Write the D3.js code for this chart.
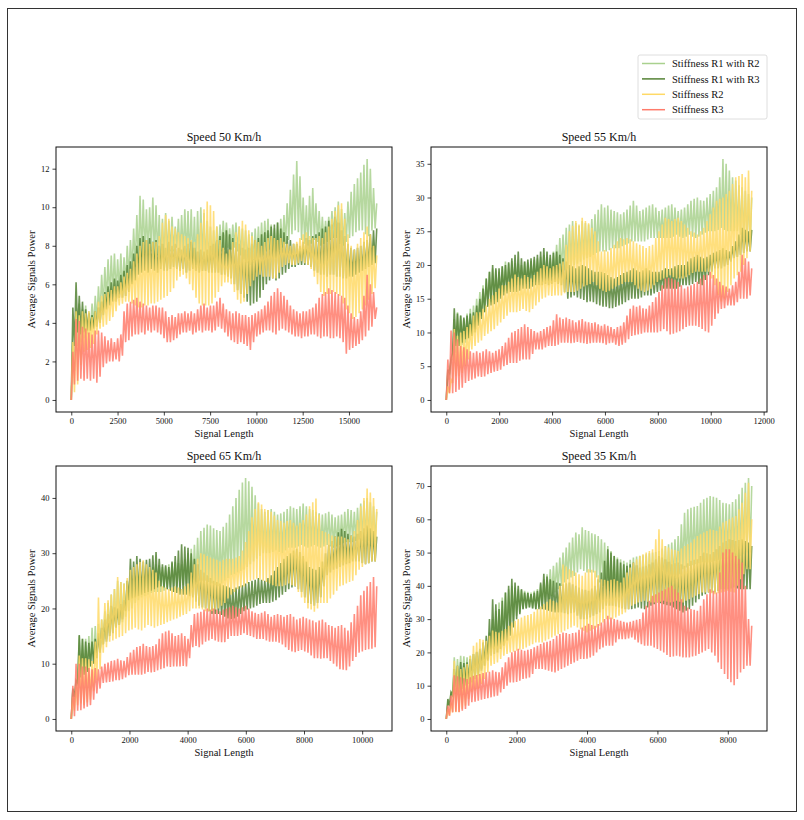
<!DOCTYPE html>
<html>
<head>
<meta charset="utf-8">
<script src="https://cdn.jsdelivr.net/npm/d3@7"></script>
<style>
  body { margin: 0; background: #fff; }
  svg text { font-family: "Liberation Serif", "Times New Roman", serif; fill: #111; }
</style>
</head>
<body>
<div class="chart"></div>
<script>
// legend / series
var seriesNames = ["Stiffness R1 with R2", "Stiffness R1 with R3", "Stiffness R2", "Stiffness R3"];
var seriesColors = ["#a9d18e", "#548235", "#ffd966", "#ff7b6b"];

var panelTitles = ["Speed 50 Km/h", "Speed 55 Km/h", "Speed 65 Km/h", "Speed 35 Km/h"];
var signalLengths = [16500, 11550, 10500, 8680];

var xTicks50 = [0, 2500, 5000, 7500, 10000, 12500, 15000];
var xTicks55 = [0, 2000, 4000, 6000, 8000, 10000, 12000];
var xTicks65 = [0, 2000, 4000, 6000, 8000, 10000];
var xTicks35 = [0, 2000, 4000, 6000, 8000];
var yTicks50 = [0, 2, 4, 6, 8, 10, 12];
var yTicks55 = [0, 5, 10, 15, 20, 25, 30, 35];
var yTicks65 = [0, 10, 20, 30, 40];
var yTicks35 = [0, 10, 20, 30, 40, 50, 60, 70];

var speed50_r1r2 = [0,3.0, 1.5,4.6, 2.8,5.0, 3.0,4.7, 3.2,4.9, 3.4,4.6, 3.6,5.0, 3.8,5.4, 4.0,5.9, 4.4,6.5, 4.8,6.9, 5.1,7.3, 5.3,7.5, 5.5,7.6, 5.5,7.3, 5.7,7.6, 5.6,7.4, 6.0,8.0, 6.3,8.3, 6.7,8.9, 6.9,9.6, 7.1,10.6, 7.4,10.4, 7.6,9.9, 7.5,10.0, 7.7,10.5, 7.3,10.1, 7.5,9.6, 7.1,9.4, 7.3,9.7, 7.5,9.3, 7.7,9.5, 7.7,9.0, 7.9,9.4, 7.5,9.6, 7.5,9.9, 7.4,9.8, 7.3,9.9, 7.1,9.5, 7.0,9.8, 7.1,10.0, 7.3,9.7, 7.0,9.3, 7.1,9.0, 7.2,8.8, 7.3,9.0, 7.5,9.1, 7.7,9.3, 7.8,9.2, 7.9,8.9, 7.8,9.1, 7.9,9.2, 7.7,9.0, 7.5,8.9, 7.3,8.8, 7.1,8.6, 7.0,8.7, 7.1,8.9, 7.2,9.0, 7.4,9.2, 7.5,9.3, 7.7,9.4, 7.8,9.1, 7.7,8.9, 7.7,9.2, 7.8,9.4, 7.9,9.6, 8.1,10.2, 8.3,10.9, 8.6,11.7, 8.8,12.4, 8.7,11.6, 8.3,10.5, 8.1,10.1, 8.0,10.6, 8.1,11.0, 8.3,10.2, 8.2,9.8, 8.0,9.5, 8.1,9.3, 8.2,9.5, 8.3,9.8, 8.4,10.0, 8.4,10.3, 8.1,9.9, 8.0,9.7, 8.2,10.3, 8.4,10.8, 8.5,11.2, 8.7,11.5, 8.8,11.8, 8.8,12.2, 8.6,12.5, 8.5,12.0, 8.8,11.0, 8.9,10.2];
var speed50_r1r3 = [0,4.8, 2.8,6.1, 3.5,5.4, 3.4,5.1, 3.5,4.7, 3.6,4.5, 3.6,4.4, 3.7,4.6, 3.8,4.8, 4.0,5.1, 4.4,5.6, 4.7,5.9, 4.9,6.1, 5.1,6.3, 5.1,6.2, 5.3,6.5, 5.3,6.7, 5.4,7.0, 5.6,7.2, 6.0,7.6, 6.2,8.0, 6.5,8.4, 6.6,8.5, 6.7,8.3, 6.6,8.4, 6.8,8.2, 6.7,8.3, 6.6,8.0, 6.8,8.1, 6.7,7.9, 6.7,8.2, 6.8,8.0, 6.9,8.1, 6.8,7.9, 6.7,7.8, 6.8,8.0, 6.6,8.1, 6.7,8.2, 6.8,7.9, 6.7,7.7, 6.6,7.8, 6.7,7.7, 6.7,7.8, 6.6,8.0, 6.6,8.1, 6.6,8.3, 6.6,8.5, 6.5,8.7, 6.5,8.8, 6.4,8.6, 6.3,8.4, 6.0,8.2, 5.7,8.1, 5.5,7.9, 5.3,7.8, 5.1,7.9, 4.9,8.1, 5.0,8.3, 5.1,8.4, 5.3,8.6, 5.7,8.7, 6.0,8.8, 6.2,9.0, 6.3,9.1, 6.2,9.2, 6.3,8.9, 6.5,8.7, 6.6,8.5, 6.8,8.3, 6.9,8.1, 6.9,8.1, 7.0,8.0, 7.0,8.2, 7.0,8.4, 7.0,8.3, 6.9,8.5, 6.7,8.6, 6.6,8.7, 6.5,8.9, 6.5,9.0, 6.4,9.3, 6.5,9.1, 6.5,9.5, 6.4,9.2, 6.4,8.8, 6.3,8.5, 6.3,8.1, 6.4,7.9, 6.4,7.8, 6.5,7.9, 6.6,8.0, 6.7,8.2, 6.8,8.3, 6.9,8.6, 7.0,8.8, 7.1,8.9];
var speed50_r2 = [0,3.0, 0.4,4.6, 0.8,4.4, 1.8,4.6, 2.5,4.5, 2.6,4.6, 2.7,4.3, 2.9,4.6, 3.4,5.1, 3.7,5.4, 3.8,5.5, 3.9,5.6, 4.1,5.7, 4.3,5.9, 4.6,5.9, 4.9,6.1, 5.0,6.4, 5.1,6.6, 5.1,6.8, 5.0,7.2, 4.9,7.6, 4.8,8.0, 4.8,8.2, 4.9,8.3, 4.9,8.1, 5.0,8.2, 5.0,8.2, 5.1,8.5, 5.2,9.2, 5.3,9.6, 5.4,9.4, 5.6,9.0, 5.8,8.9, 6.2,8.7, 6.4,8.6, 6.5,8.5, 6.3,8.4, 6.0,8.3, 5.7,8.2, 5.3,8.6, 5.0,9.2, 4.9,9.9, 4.9,10.3, 4.9,10.1, 5.0,9.8, 5.3,9.0, 5.6,8.3, 5.9,7.9, 6.1,7.6, 6.1,7.8, 6.0,8.2, 5.6,8.7, 5.2,9.0, 5.0,9.3, 5.1,9.1, 5.5,8.8, 5.9,8.5, 6.2,8.3, 6.4,8.2, 6.5,8.0, 6.4,8.2, 6.4,8.4, 6.4,8.5, 6.3,8.4, 6.3,8.3, 6.6,8.4, 6.9,8.2, 7.0,8.1, 7.1,8.0, 7.0,8.1, 7.0,8.2, 7.1,8.4, 7.2,8.6, 7.1,8.7, 7.0,8.5, 6.8,8.4, 6.4,8.4, 6.0,8.5, 5.6,8.4, 5.4,8.7, 5.5,9.0, 5.5,9.4, 5.6,9.8, 5.5,10.1, 5.4,10.2, 5.0,9.4, 4.7,8.6, 4.5,8.0, 4.2,7.8, 4.3,8.1, 4.5,8.4, 4.7,8.7, 4.9,9.0, 5.2,8.6, 5.5,8.0, 5.8,7.5];
var speed50_r3 = [0,2.5, 0.8,4.2, 1.0,4.1, 1.1,3.8, 1.0,3.7, 1.1,3.5, 1.0,3.4, 1.1,3.6, 0.9,3.6, 1.2,3.5, 1.7,3.3, 1.9,3.1, 2.0,3.2, 2.0,3.0, 2.1,3.2, 2.0,3.4, 2.3,4.6, 3.0,5.0, 3.1,5.1, 3.3,5.2, 3.4,5.3, 3.4,5.1, 3.5,5.0, 3.4,4.9, 3.6,4.8, 3.5,4.9, 3.6,4.9, 3.5,4.8, 3.4,4.8, 3.2,4.6, 3.0,4.3, 3.0,4.4, 3.1,4.3, 3.2,4.5, 3.4,4.5, 3.5,4.6, 3.5,4.5, 3.6,4.6, 3.4,4.5, 3.5,4.7, 3.6,4.9, 3.5,5.0, 3.6,4.8, 3.6,4.9, 3.5,4.9, 3.6,5.1, 3.8,5.3, 3.7,5.0, 3.5,4.7, 3.3,4.6, 3.1,4.5, 3.0,4.6, 2.9,4.5, 3.0,4.4, 2.9,4.4, 2.8,4.3, 2.6,4.4, 3.0,4.5, 3.3,4.6, 3.4,4.7, 3.5,4.9, 3.6,5.1, 3.6,5.4, 3.5,5.6, 3.4,5.8, 3.6,5.6, 3.7,5.4, 3.6,5.2, 3.5,4.9, 3.4,4.7, 3.3,4.6, 3.3,4.5, 3.2,4.6, 3.3,4.6, 3.3,4.7, 3.4,4.8, 3.4,5.0, 3.3,5.3, 3.2,5.5, 3.3,5.6, 3.3,5.8, 3.2,5.7, 3.2,5.6, 3.3,5.5, 3.2,5.4, 3.0,5.3, 2.4,4.9, 2.6,4.5, 2.7,4.3, 2.8,4.2, 2.9,4.6, 3.1,5.4, 3.3,6.5, 3.6,6.0, 3.8,5.6, 4.2,4.8];

var speed55_r1r2 = [0,4.0, 3.0,6.0, 6.0,12.0, 7.0,13.0, 8.0,12.5, 8.2,12.0, 8.5,12.8, 9.0,13.5, 9.5,14.0, 10.5,15.0, 11.5,16.0, 12.5,17.0, 13.0,18.0, 14.0,19.0, 14.5,19.5, 14.8,19.2, 15.0,19.0, 15.5,19.8, 16.0,20.5, 16.2,20.2, 16.5,20.6, 16.8,20.3, 17.0,20.2, 17.0,20.0, 17.0,20.5, 17.2,20.4, 17.5,20.6, 17.5,20.8, 17.5,21.0, 17.8,21.2, 18.0,21.5, 18.0,21.2, 18.0,21.0, 18.2,22.0, 18.5,23.0, 18.8,24.0, 19.0,24.5, 19.2,25.5, 19.5,26.0, 19.8,26.5, 20.0,26.2, 20.2,25.8, 20.5,26.5, 20.8,26.2, 21.0,26.0, 21.2,26.8, 21.5,27.5, 21.8,28.2, 22.0,29.0, 22.0,28.5, 22.0,28.8, 22.2,28.2, 22.5,28.0, 22.5,27.8, 22.5,27.5, 22.8,27.8, 23.0,28.2, 23.2,28.8, 23.5,29.5, 23.5,28.8, 23.5,28.0, 23.5,28.2, 23.5,28.5, 23.8,28.8, 24.0,29.0, 24.0,28.5, 24.0,28.0, 24.0,28.2, 24.0,28.5, 24.0,28.8, 24.0,29.0, 24.2,28.5, 24.5,28.0, 24.2,28.2, 24.0,28.5, 24.2,29.0, 24.5,29.5, 24.2,29.8, 24.0,30.0, 24.2,29.6, 24.5,29.5, 24.8,30.0, 25.0,30.5, 25.0,31.0, 25.0,31.5, 25.2,33.0, 25.5,35.7, 25.2,35.0, 25.0,34.0, 25.0,33.0, 25.0,32.5, 25.0,31.8, 24.5,31.5, 24.0,31.0, 23.5,30.5, 23.0,30.0];
var speed55_r1r3 = [0,4.5, 4.0,6.2, 7.0,13.6, 8.0,12.8, 8.0,12.5, 8.5,12.2, 9.0,12.5, 9.2,12.8, 9.5,13.0, 10.0,14.0, 11.0,15.0, 12.0,16.5, 13.0,18.0, 13.8,19.0, 14.0,20.0, 14.2,19.5, 14.5,19.5, 15.0,19.8, 15.5,20.0, 15.8,20.4, 16.0,21.0, 16.0,21.5, 16.0,22.0, 16.2,21.0, 16.5,20.5, 16.5,20.8, 16.5,21.0, 16.8,21.2, 17.0,21.5, 17.0,22.0, 17.0,22.5, 17.2,22.0, 17.0,21.5, 17.2,21.8, 17.5,22.0, 17.2,21.5, 17.0,21.0, 16.0,20.5, 15.0,20.0, 15.2,19.8, 15.5,19.5, 15.2,19.8, 15.0,20.0, 14.8,19.8, 14.5,19.5, 14.6,19.2, 14.5,19.0, 14.2,19.0, 14.0,19.0, 13.8,18.8, 13.8,18.5, 13.6,18.2, 13.6,18.0, 13.8,18.2, 14.0,18.5, 14.2,18.8, 14.5,19.0, 14.8,19.2, 15.0,19.5, 15.0,19.2, 15.0,19.0, 15.2,19.2, 15.5,19.5, 15.5,19.2, 15.5,19.0, 15.8,19.0, 16.0,19.0, 16.2,19.2, 16.5,19.5, 16.5,19.4, 16.5,19.5, 16.5,19.8, 16.5,20.0, 16.8,20.0, 17.0,20.0, 17.0,20.5, 17.0,21.0, 17.2,21.2, 17.5,21.5, 17.2,21.2, 17.0,21.0, 17.8,21.2, 18.5,21.5, 19.0,21.8, 19.5,22.0, 19.5,22.2, 19.5,22.5, 19.8,22.2, 20.0,22.0, 20.5,22.8, 21.0,23.5, 21.2,24.5, 21.5,25.5, 21.8,25.2, 22.0,25.0, 22.0,25.2];
var speed55_r2 = [0,2.0, 1.0,3.0, 2.5,10.5, 3.5,9.5, 3.5,10.0, 4.0,10.2, 5.0,10.8, 6.0,11.2, 7.5,12.5, 8.0,13.0, 8.5,13.0, 8.8,13.5, 9.5,14.0, 9.8,15.0, 10.2,15.5, 10.5,16.0, 11.0,16.5, 11.5,17.0, 12.0,17.0, 12.5,17.5, 13.0,18.0, 13.0,18.6, 13.0,18.2, 13.2,18.0, 13.5,18.5, 13.2,18.2, 13.0,18.0, 13.5,18.5, 14.0,19.0, 14.5,19.5, 15.0,20.0, 15.2,19.8, 15.5,19.5, 15.4,19.8, 15.5,20.0, 15.5,20.2, 15.5,20.5, 15.8,23.0, 16.0,25.0, 16.0,25.8, 16.0,26.5, 16.2,26.0, 16.5,27.0, 16.8,26.5, 17.0,26.2, 17.2,25.5, 17.5,25.0, 17.0,23.5, 16.5,22.0, 16.2,22.2, 16.0,22.0, 16.2,22.5, 16.5,23.0, 16.8,23.5, 17.0,24.0, 17.2,23.8, 17.5,24.0, 17.5,23.8, 17.5,23.5, 17.0,23.2, 16.5,23.0, 16.2,22.8, 16.0,22.5, 16.2,22.8, 16.5,23.0, 17.0,24.0, 17.5,25.0, 17.8,26.0, 18.0,27.0, 18.2,26.8, 18.5,26.5, 18.2,26.8, 18.0,27.0, 18.0,26.5, 18.0,26.0, 18.2,25.5, 18.5,25.0, 18.8,24.8, 19.0,24.5, 19.0,25.0, 19.0,25.5, 19.0,26.5, 19.0,27.5, 18.0,28.5, 17.0,29.5, 15.5,29.8, 14.6,30.0, 15.0,30.5, 16.0,31.0, 17.0,32.0, 18.0,33.0, 18.5,33.2, 19.0,33.5, 20.0,33.0, 21.0,34.0, 22.0,31.0];
var speed55_r3 = [0,6.0, 1.0,10.3, 1.0,10.0, 1.2,9.0, 1.5,8.0, 1.8,7.8, 2.5,7.5, 2.8,7.2, 3.0,7.0, 3.2,7.2, 3.5,7.0, 3.4,7.2, 3.5,7.5, 3.8,7.2, 4.0,7.0, 4.2,7.3, 4.3,7.5, 4.5,8.0, 5.0,8.5, 5.2,9.2, 5.5,10.0, 5.5,10.2, 5.5,10.5, 5.8,10.8, 6.0,11.2, 6.0,10.8, 6.0,10.5, 6.8,10.2, 7.5,10.0, 7.5,10.2, 7.5,10.5, 7.8,10.8, 8.0,11.0, 8.0,11.8, 8.0,12.7, 8.2,12.2, 8.5,12.0, 8.5,12.2, 8.5,12.0, 8.4,11.8, 8.5,11.5, 8.6,11.8, 8.5,12.0, 8.4,11.6, 8.3,11.5, 8.4,11.4, 8.5,11.5, 8.5,11.2, 8.5,11.0, 8.4,11.2, 8.2,11.0, 8.4,10.8, 8.5,10.5, 8.2,10.8, 8.0,11.0, 8.2,11.5, 8.5,12.5, 9.0,13.5, 9.5,14.0, 9.6,13.8, 9.7,14.0, 9.8,13.6, 10.0,13.5, 10.0,14.0, 10.0,14.5, 10.0,15.2, 10.0,16.0, 10.2,17.0, 10.5,18.0, 10.2,18.1, 9.7,18.0, 9.8,17.8, 10.0,17.5, 10.2,17.0, 10.5,16.5, 10.8,16.8, 11.0,17.0, 11.0,17.2, 11.0,17.5, 10.8,18.0, 10.5,18.5, 10.2,18.6, 10.0,19.0, 11.0,18.5, 12.0,18.0, 12.8,17.5, 13.5,17.0, 13.6,16.8, 14.0,16.5, 14.0,17.0, 14.0,17.5, 14.5,19.0, 15.0,21.5, 15.0,21.0, 15.0,20.5, 15.5,19.5];

var speed65_r1r2 = [0,5.0, 3.0,7.0, 6.0,15.0, 7.5,14.5, 8.0,14.5, 8.5,15.0, 9.5,16.5, 10.0,16.8, 11.0,17.2, 12.0,18.0, 13.5,19.5, 14.5,21.0, 15.5,22.5, 16.0,23.5, 16.5,25.0, 17.0,24.8, 17.5,24.5, 18.5,25.0, 19.5,25.5, 20.0,26.0, 21.0,27.0, 21.5,27.4, 22.0,27.8, 22.2,27.2, 22.5,27.0, 22.8,27.5, 23.0,28.0, 23.0,27.8, 23.0,27.5, 23.2,27.6, 23.5,28.0, 23.8,28.2, 24.0,28.4, 24.0,28.2, 24.0,28.0, 24.2,29.0, 24.5,30.0, 24.5,30.8, 24.5,31.5, 24.8,32.8, 25.0,34.0, 25.0,34.6, 25.0,35.2, 24.8,35.0, 24.5,34.5, 24.2,34.2, 24.0,34.0, 24.5,34.8, 25.0,35.5, 25.5,37.0, 26.0,38.5, 26.2,40.0, 26.5,41.5, 26.8,42.8, 27.0,43.6, 27.5,43.0, 28.0,42.0, 28.5,40.5, 29.0,39.0, 29.5,38.0, 30.0,37.5, 30.0,37.8, 30.0,38.0, 30.2,37.5, 30.5,37.0, 30.2,37.2, 30.0,37.5, 30.5,38.0, 31.0,38.5, 31.0,38.2, 31.0,38.0, 31.2,38.5, 31.5,39.0, 31.2,38.5, 31.0,38.0, 31.2,37.8, 31.5,37.5, 31.2,37.2, 31.0,37.0, 31.2,37.2, 31.5,37.5, 31.2,37.0, 31.0,36.5, 31.2,36.8, 31.5,37.0, 31.8,37.5, 32.0,38.0, 32.0,37.8, 32.0,37.5, 32.2,38.2, 32.5,39.0, 32.2,39.5, 32.0,40.0, 32.2,39.2, 32.0,38.5, 32.0,37.5];
var speed65_r1r3 = [0,5.5, 4.0,7.0, 6.5,15.2, 7.5,14.5, 8.0,14.0, 8.5,13.8, 9.5,14.0, 10.0,14.5, 11.0,15.5, 12.0,16.5, 13.5,18.0, 14.0,19.0, 15.0,20.5, 15.5,20.2, 16.5,20.0, 17.0,20.8, 18.0,21.5, 19.5,25.0, 21.5,29.0, 21.8,28.5, 22.0,29.5, 22.2,29.0, 22.5,28.5, 22.8,28.8, 23.0,29.0, 23.2,29.6, 23.5,30.2, 23.8,29.0, 24.0,28.0, 23.8,27.8, 23.5,27.5, 23.2,28.5, 23.0,29.5, 22.8,30.5, 22.5,31.6, 22.5,31.2, 22.5,31.0, 22.2,30.0, 22.0,29.0, 21.2,28.0, 20.5,27.0, 20.2,26.5, 20.0,26.0, 19.5,25.5, 19.0,25.0, 19.0,24.8, 19.0,24.5, 18.8,24.2, 18.5,24.0, 18.2,23.8, 18.1,23.5, 18.2,23.8, 18.5,24.0, 19.0,24.2, 19.5,24.5, 19.8,24.8, 20.0,25.0, 20.2,25.2, 20.5,25.5, 20.8,25.2, 21.0,25.0, 21.0,25.5, 21.0,26.0, 21.2,26.8, 21.5,27.5, 22.0,28.2, 22.5,29.0, 23.0,29.5, 23.5,30.0, 23.8,30.5, 24.0,30.8, 23.5,30.2, 23.0,29.5, 22.0,28.5, 21.0,27.5, 20.8,27.2, 20.5,27.0, 21.0,27.5, 22.0,28.5, 24.0,30.0, 26.0,31.5, 26.5,32.2, 27.0,33.0, 27.2,33.8, 27.5,34.4, 27.8,34.0, 28.0,33.5, 28.2,33.2, 28.5,33.0, 28.5,33.5, 28.5,34.0, 28.2,34.5, 28.0,35.0, 28.2,34.5, 28.5,34.0, 28.5,33.0];
var speed65_r2 = [0,4.0, 1.5,6.0, 2.5,11.5, 2.8,11.0, 2.5,11.0, 3.0,10.8, 3.5,10.5, 5.0,14.0, 7.0,22.0, 9.0,18.0, 12.0,21.0, 13.0,21.5, 14.0,22.5, 14.2,23.5, 14.5,25.7, 14.8,24.8, 15.0,24.5, 15.5,25.5, 16.0,27.0, 16.2,27.5, 16.5,28.0, 16.2,28.4, 16.0,28.7, 16.5,28.0, 17.0,27.5, 16.8,27.0, 16.5,26.5, 16.8,25.0, 17.0,24.0, 17.2,23.8, 17.5,23.5, 17.8,23.8, 18.0,24.0, 18.2,23.8, 18.5,23.5, 18.8,24.0, 19.0,24.5, 19.5,26.5, 20.0,28.0, 20.0,29.0, 20.0,30.0, 19.8,29.8, 19.5,29.5, 19.5,29.2, 19.5,29.0, 19.8,28.8, 20.0,28.5, 20.5,28.8, 21.0,29.0, 21.8,29.0, 22.5,29.0, 23.0,29.2, 23.5,29.5, 23.8,30.5, 24.0,32.0, 24.5,34.0, 25.0,36.5, 25.2,38.0, 25.4,39.2, 25.2,38.8, 25.0,38.0, 24.8,37.8, 24.5,37.5, 24.2,36.8, 24.0,36.0, 24.0,35.8, 24.0,35.5, 24.2,35.8, 24.5,36.0, 24.2,35.5, 24.0,35.0, 23.0,35.5, 22.0,36.0, 21.0,37.0, 20.0,38.5, 19.8,39.2, 19.4,39.9, 20.0,37.0, 21.0,34.0, 21.0,33.8, 21.0,33.5, 21.8,33.2, 22.5,33.0, 23.2,33.0, 24.0,33.0, 24.2,32.8, 24.5,32.5, 24.8,33.2, 25.0,34.0, 26.0,36.0, 27.0,38.5, 27.5,40.0, 28.0,41.7, 28.2,41.0, 28.5,40.0, 28.5,38.0];
var speed65_r3 = [0,6.0, 0.5,10.0, 1.5,10.0, 1.6,9.5, 1.9,9.5, 2.2,9.2, 2.5,9.0, 3.5,9.2, 4.6,9.0, 5.5,9.5, 6.5,10.0, 6.6,10.2, 6.7,10.5, 6.8,10.6, 7.0,10.9, 7.0,10.6, 7.2,10.5, 7.5,11.2, 7.9,12.0, 8.0,12.5, 8.0,13.0, 8.0,13.2, 8.0,13.6, 8.2,13.2, 8.5,13.0, 8.4,13.2, 8.5,13.5, 8.8,14.5, 9.0,15.5, 9.2,15.8, 9.5,16.0, 9.4,15.5, 9.5,15.0, 9.5,15.2, 9.5,15.5, 9.6,15.0, 9.5,14.5, 11.0,17.0, 13.0,19.0, 13.2,19.2, 13.0,19.4, 13.5,19.8, 14.0,20.0, 14.2,19.8, 14.5,20.0, 14.2,19.8, 14.0,19.5, 13.9,19.8, 13.9,20.0, 14.5,20.2, 15.0,20.5, 15.0,20.2, 15.0,20.0, 15.2,20.2, 15.5,20.5, 15.2,20.0, 15.0,19.5, 14.8,19.2, 14.5,19.0, 14.5,19.2, 14.5,19.5, 14.2,19.0, 14.0,18.5, 14.0,18.8, 14.0,19.0, 13.8,18.8, 13.5,18.5, 13.0,18.8, 12.5,19.0, 12.2,18.5, 12.1,18.0, 12.3,18.2, 12.5,18.5, 12.2,18.2, 12.0,18.0, 11.5,17.8, 11.0,17.5, 11.0,17.8, 10.9,18.0, 11.0,17.5, 11.0,17.0, 10.5,16.8, 10.0,16.5, 9.5,16.8, 9.0,17.0, 8.9,16.5, 8.8,16.0, 9.5,17.5, 10.5,19.0, 11.2,20.5, 12.0,22.4, 12.2,23.2, 12.5,24.0, 12.6,24.8, 12.7,25.7, 13.0,24.0];

var speed35_r1r2 = [0,5.0, 4.0,8.0, 8.0,18.5, 9.0,18.0, 10.0,19.0, 10.5,18.8, 11.0,18.5, 11.5,19.0, 12.0,19.5, 13.0,20.0, 14.0,20.5, 15.0,21.0, 16.0,22.0, 18.0,26.0, 20.0,30.0, 21.0,32.5, 22.0,35.0, 23.0,36.5, 24.0,38.0, 26.0,39.0, 28.0,40.0, 29.5,39.5, 31.0,39.0, 32.0,38.8, 33.0,38.5, 33.2,38.2, 33.5,38.0, 33.2,38.5, 33.0,39.0, 33.5,40.5, 34.0,42.0, 35.0,43.5, 36.0,45.0, 37.0,46.0, 38.0,47.0, 39.0,48.5, 40.0,50.0, 41.0,51.5, 42.0,53.0, 42.5,54.5, 43.0,56.0, 44.0,55.5, 45.0,57.6, 44.5,56.8, 44.0,56.5, 44.0,55.8, 44.0,55.5, 42.5,55.0, 41.0,54.0, 40.0,53.0, 39.0,52.0, 38.5,50.5, 38.0,49.0, 38.0,48.5, 38.0,48.0, 37.8,47.5, 37.5,47.0, 37.8,47.8, 38.0,48.5, 38.2,48.8, 38.5,49.0, 38.2,49.2, 38.0,49.5, 38.2,49.8, 38.5,50.0, 38.8,50.2, 39.0,50.5, 39.5,51.2, 40.0,52.0, 40.2,52.5, 40.5,53.0, 41.2,54.0, 42.0,55.0, 43.5,58.5, 45.0,62.0, 45.5,63.0, 46.0,63.5, 46.2,63.8, 46.5,64.0, 46.8,65.0, 47.0,66.0, 47.0,66.5, 47.0,67.0, 47.2,66.8, 47.5,66.5, 47.8,65.8, 48.0,65.0, 48.0,64.8, 48.0,64.5, 48.2,65.2, 48.5,66.0, 48.8,67.5, 49.0,69.5, 49.5,71.0, 50.0,72.4, 50.0,70.0];
var speed35_r1r3 = [0,6.0, 4.0,8.0, 7.0,15.0, 7.5,16.0, 8.0,17.1, 9.0,16.8, 10.0,17.0, 10.5,18.0, 11.0,19.5, 12.0,20.2, 13.0,21.1, 14.5,23.0, 16.0,25.0, 17.5,30.0, 19.0,36.0, 19.5,34.5, 20.0,33.0, 21.0,35.5, 22.0,38.0, 23.5,40.0, 25.0,42.1, 27.5,41.0, 30.0,40.0, 31.5,39.0, 33.0,38.0, 33.2,37.8, 33.5,37.5, 33.2,38.0, 33.0,38.5, 33.0,41.0, 33.0,43.6, 32.8,42.8, 32.5,42.0, 32.2,41.5, 32.0,41.0, 32.0,40.8, 32.0,40.5, 31.8,40.8, 31.5,41.0, 31.8,40.5, 32.0,40.0, 31.0,39.5, 30.0,39.0, 30.0,38.8, 30.0,38.5, 30.5,39.2, 31.0,40.0, 31.5,42.0, 32.0,44.0, 33.0,47.5, 34.0,51.0, 34.0,50.0, 34.0,49.0, 33.8,48.0, 33.5,47.0, 33.2,46.5, 33.0,46.0, 33.0,46.5, 33.0,47.0, 33.2,46.2, 33.5,45.5, 33.2,45.8, 33.0,46.0, 33.5,46.5, 34.0,47.0, 34.5,48.0, 35.0,49.0, 34.8,48.5, 34.5,48.0, 34.2,47.2, 34.0,46.5, 33.5,46.8, 33.0,47.0, 32.5,46.5, 32.0,46.0, 32.5,46.8, 33.0,47.5, 34.0,47.8, 35.0,48.0, 36.0,49.0, 37.0,50.0, 37.5,49.8, 38.0,49.5, 38.0,50.2, 38.0,51.0, 38.5,52.0, 39.0,53.0, 39.0,53.5, 39.0,54.0, 39.2,53.8, 39.5,53.5, 39.2,53.8, 39.0,54.0, 39.0,53.5, 39.0,53.0, 39.0,52.0];
var speed35_r2 = [0,3.0, 1.0,5.0, 2.0,17.5, 2.0,16.0, 2.1,15.0, 3.0,15.5, 4.0,16.5, 6.0,19.0, 8.0,22.0, 8.5,23.0, 9.0,24.0, 10.5,23.8, 12.0,23.5, 14.0,25.0, 16.0,26.6, 16.5,26.2, 17.0,26.0, 18.0,26.5, 19.0,27.0, 19.5,28.0, 20.0,29.0, 20.2,29.5, 20.5,30.0, 20.8,30.5, 21.0,31.0, 21.5,31.2, 22.0,31.5, 22.5,32.2, 23.0,33.0, 23.0,33.8, 23.0,34.5, 23.5,35.2, 24.0,36.0, 24.5,35.5, 25.0,35.0, 25.5,40.0, 26.0,46.4, 26.5,45.8, 27.0,45.0, 27.5,44.5, 28.0,44.0, 27.5,43.5, 27.0,43.0, 26.5,44.0, 26.0,45.0, 26.5,44.8, 27.0,44.5, 27.5,43.2, 28.0,42.0, 29.0,41.8, 30.0,41.5, 30.0,41.8, 30.0,42.0, 30.5,41.5, 31.0,41.0, 31.5,42.5, 32.0,44.0, 33.0,45.5, 34.0,47.0, 34.5,48.0, 35.0,49.0, 35.2,49.5, 35.5,50.0, 35.2,50.5, 35.0,51.0, 35.0,54.0, 35.0,57.0, 35.2,54.0, 35.5,52.0, 35.2,51.5, 35.0,51.0, 35.2,50.8, 35.5,50.5, 35.2,51.2, 35.0,52.0, 35.5,52.5, 36.0,53.0, 36.5,54.0, 37.0,55.0, 37.5,55.5, 38.0,56.0, 38.0,56.5, 38.0,57.0, 37.8,56.8, 37.5,56.5, 37.8,57.8, 38.0,59.0, 38.2,59.5, 38.5,60.0, 38.2,60.5, 38.0,61.0, 40.0,63.0, 42.0,65.0, 43.5,68.0, 45.0,71.0, 45.0,60.0];
var speed35_r3 = [0,4.0, 1.0,7.0, 2.0,13.1, 2.2,12.8, 2.0,12.5, 2.5,12.2, 3.0,12.0, 4.0,12.5, 5.0,13.0, 5.2,13.2, 5.5,13.5, 5.8,13.8, 6.0,14.0, 6.2,14.2, 6.5,14.6, 6.8,14.2, 7.0,14.0, 8.0,15.5, 9.0,17.0, 10.0,18.5, 11.0,20.0, 11.0,20.5, 11.1,21.1, 11.5,20.8, 12.0,20.5, 12.2,20.8, 12.5,21.0, 13.5,21.5, 15.0,22.0, 15.0,22.5, 15.0,23.0, 14.8,23.2, 14.5,23.5, 14.2,24.0, 14.0,25.0, 14.5,25.5, 15.0,26.0, 15.5,25.8, 16.0,25.5, 16.5,25.8, 17.0,26.0, 17.5,26.8, 18.0,27.5, 18.0,28.0, 18.1,28.6, 18.5,28.2, 19.0,28.0, 20.0,28.5, 21.0,29.0, 21.5,30.0, 22.0,31.0, 22.0,30.5, 22.0,30.0, 23.0,29.8, 24.0,29.5, 24.0,29.2, 24.0,29.0, 24.2,29.2, 24.5,29.5, 23.8,29.8, 23.0,30.0, 22.5,32.0, 22.0,34.0, 22.0,35.5, 22.0,37.0, 21.5,37.5, 21.0,38.0, 20.5,38.5, 20.0,39.0, 19.2,39.5, 18.6,40.0, 18.8,39.0, 19.0,38.0, 18.8,36.0, 18.5,34.0, 18.5,33.5, 18.5,33.0, 18.8,32.8, 19.0,32.5, 19.5,34.0, 20.0,36.0, 20.5,37.5, 21.0,39.0, 20.0,38.5, 19.0,38.0, 17.0,44.0, 15.0,50.0, 13.5,51.0, 12.0,51.0, 11.0,50.0, 10.1,49.0, 12.0,48.0, 14.0,47.0, 15.0,40.0, 16.0,30.0, 16.0,28.0];

function init() {
  var w = 804;
  var h = 820;
  var plotW = 336;
  var plotH = 265;
  var lefts = [56, 431, 56, 431];
  var tops = [147, 147, 466, 466];

  var panels = [
    { series: [speed50_r1r2, speed50_r1r3, speed50_r2, speed50_r3], xTicks: xTicks50, yTicks: yTicks50 },
    { series: [speed55_r1r2, speed55_r1r3, speed55_r2, speed55_r3], xTicks: xTicks55, yTicks: yTicks55 },
    { series: [speed65_r1r2, speed65_r1r3, speed65_r2, speed65_r3], xTicks: xTicks65, yTicks: yTicks65 },
    { series: [speed35_r1r2, speed35_r1r3, speed35_r2, speed35_r3], xTicks: xTicks35, yTicks: yTicks35 }
  ];

  var svg = d3.select(".chart")
    .append("svg")
    .attr("width", w)
    .attr("height", h);

  svg.append("rect")
    .attr("x", 7.5)
    .attr("y", 8.5)
    .attr("width", 789)
    .attr("height", 803)
    .attr("fill", "white")
    .attr("stroke", "#333")
    .attr("stroke-width", 1);

  panels.forEach(function(p, k) {
    var n = signalLengths[k];
    var all = d3.merge(p.series);
    var lo = d3.min(all), hi = d3.max(all);
    var pad = (hi - lo) * 0.05;

    var xScale = d3.scaleLinear()
      .domain([-0.05 * n, 1.05 * n])
      .range([0, plotW]);

    var yScale = d3.scaleLinear()
      .domain([lo - pad, hi + pad])
      .range([plotH, 0]);

    var g = svg.append("g")
      .attr("transform", "translate(" + lefts[k] + "," + tops[k] + ")");

    g.append("defs").append("clipPath")
      .attr("id", "clip" + k)
      .append("rect")
      .attr("width", plotW)
      .attr("height", plotH);

    var line = d3.line()
      .x(function(d, i, arr) { return xScale(i * n / (arr.length - 1)); })
      .y(function(d) { return yScale(d); });

    g.append("g")
      .attr("clip-path", "url(#clip" + k + ")")
      .selectAll("path")
      .data(p.series)
      .enter()
      .append("path")
      .attr("d", function(d) { return line(d); })
      .attr("fill", "none")
      .attr("stroke", function(d, i) { return seriesColors[i]; })
      .attr("stroke-opacity", 0.85)
      .attr("stroke-width", 1.6);

    var xAxis = d3.axisBottom(xScale)
      .tickValues(p.xTicks)
      .tickSize(3.5)
      .tickPadding(2.5)
      .tickFormat(d3.format("d"));

    var yAxis = d3.axisLeft(yScale)
      .tickValues(p.yTicks)
      .tickSize(3.5)
      .tickPadding(3)
      .tickFormat(d3.format("d"));

    var gx = g.append("g")
      .attr("transform", "translate(0," + plotH + ")")
      .call(xAxis);
    var gy = g.append("g").call(yAxis);

    [gx, gy].forEach(function(ax) {
      ax.select(".domain").remove();
      ax.selectAll("line").attr("stroke", "#111").attr("stroke-width", 0.8);
      ax.selectAll("text")
        .attr("font-family", "Liberation Serif, Times New Roman, serif")
        .attr("font-size", "8.5px")
        .attr("fill", "#111");
    });

    g.append("rect")
      .attr("width", plotW)
      .attr("height", plotH)
      .attr("fill", "none")
      .attr("stroke", "#111")
      .attr("stroke-width", 1);

    g.append("text")
      .attr("x", plotW / 2)
      .attr("y", -6)
      .attr("text-anchor", "middle")
      .attr("font-size", "12px")
      .text(panelTitles[k]);

    g.append("text")
      .attr("x", plotW / 2)
      .attr("y", plotH + 25)
      .attr("text-anchor", "middle")
      .attr("font-size", "10.5px")
      .text("Signal Length");

    g.append("text")
      .attr("transform", "translate(-21," + plotH / 2 + ") rotate(-90)")
      .attr("text-anchor", "middle")
      .attr("font-size", "10.5px")
      .text("Average Signals Power");
  });

  // legend
  var legend = svg.append("g")
    .attr("transform", "translate(638,55)");

  legend.append("rect")
    .attr("width", 129)
    .attr("height", 64)
    .attr("rx", 2)
    .attr("fill", "white")
    .attr("stroke", "#d6d6d6")
    .attr("stroke-width", 0.8);

  var rows = legend.selectAll(".row")
    .data(seriesNames)
    .enter()
    .append("g")
    .attr("class", "row")
    .attr("transform", function(d, i) { return "translate(0," + (8.5 + i * 15.4) + ")"; });

  rows.append("line")
    .attr("x1", 4)
    .attr("x2", 27)
    .attr("stroke", function(d, i) { return seriesColors[i]; })
    .attr("stroke-width", 1.5);

  rows.append("text")
    .attr("x", 34)
    .attr("y", 3.6)
    .attr("font-size", "10.5px")
    .text(function(d) { return d; });
}

window.onload = init;
</script>
</body>
</html>
